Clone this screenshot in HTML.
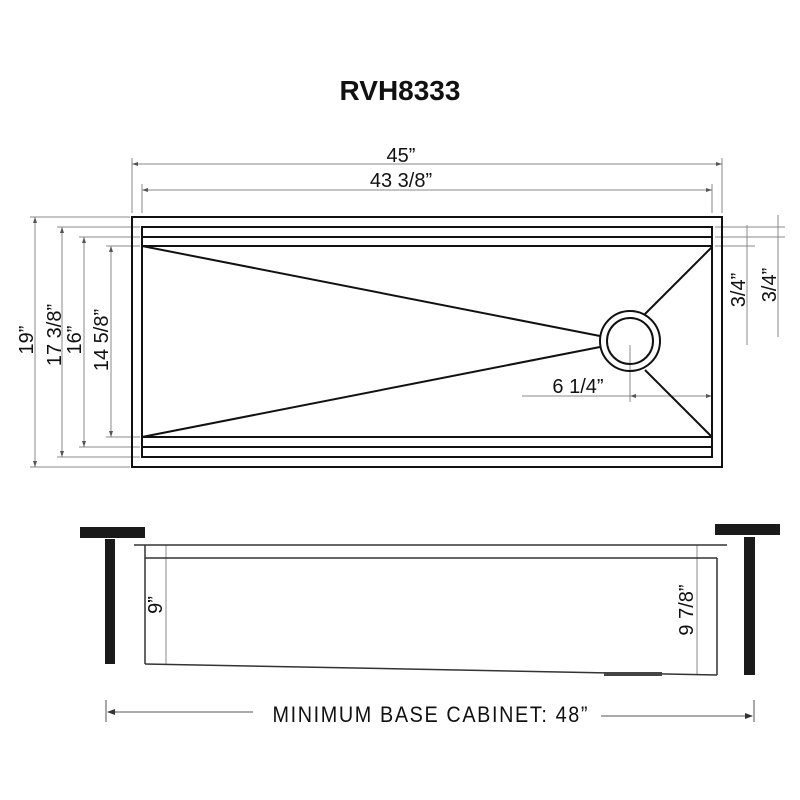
<!DOCTYPE html>
<html><head><style>body{margin:0;background:#fff}svg{display:block}</style></head><body>
<svg width="800" height="800" viewBox="0 0 800 800" xmlns="http://www.w3.org/2000/svg" font-family="Liberation Sans, sans-serif">
<text x="400" y="100" text-anchor="middle" font-size="28" font-weight="bold" fill="#111">RVH8333</text>
<g stroke="#888" stroke-width="1" fill="none">
<line x1="132" y1="158" x2="132" y2="213"/><line x1="722" y1="158" x2="722" y2="213"/>
<line x1="132" y1="164" x2="722" y2="164"/>
<line x1="142" y1="184" x2="142" y2="213"/><line x1="712" y1="184" x2="712" y2="213"/>
<line x1="142" y1="190" x2="712" y2="190"/>
<line x1="30" y1="217" x2="130" y2="217"/><line x1="30" y1="467" x2="130" y2="467"/>
<line x1="35" y1="217" x2="35" y2="467"/>
<line x1="57" y1="227" x2="140" y2="227"/><line x1="57" y1="457" x2="140" y2="457"/>
<line x1="62" y1="227" x2="62" y2="457"/>
<line x1="79" y1="237" x2="140" y2="237"/><line x1="79" y1="447" x2="140" y2="447"/>
<line x1="84" y1="237" x2="84" y2="447"/>
<line x1="106" y1="246" x2="140" y2="246"/><line x1="106" y1="437" x2="140" y2="437"/>
<line x1="111" y1="246" x2="111" y2="437"/>
<line x1="715" y1="227" x2="785" y2="227"/><line x1="715" y1="237" x2="785" y2="237"/><line x1="715" y1="246" x2="755" y2="246"/>
<line x1="747" y1="225" x2="747" y2="345"/><line x1="778" y1="215" x2="778" y2="337"/>
<line x1="522" y1="396" x2="712" y2="396"/><line x1="630" y1="345" x2="630" y2="402"/>
<line x1="166" y1="545" x2="166" y2="664"/><line x1="697" y1="545" x2="697" y2="675"/>
</g>
<g fill="#555">
<polygon points="132,164 138,162 138,166"/><polygon points="722,164 716,162 716,166"/>
<polygon points="142,190 148,188 148,192"/><polygon points="712,190 706,188 706,192"/>
<polygon points="35,217 33,223 37,223"/><polygon points="35,467 33,461 37,461"/>
<polygon points="62,227 60,233 64,233"/><polygon points="62,457 60,451 64,451"/>
<polygon points="84,237 82,243 86,243"/><polygon points="84,447 82,441 86,441"/>
<polygon points="111,246 109,252 113,252"/><polygon points="111,437 109,431 113,431"/>
<polygon points="630,396 636,394 636,398"/><polygon points="712,396 706,394 706,398"/>
</g>
<g fill="#111" font-size="20">
<text x="401" y="162" text-anchor="middle">45”</text>
<text x="401" y="187" text-anchor="middle">43 3/8”</text>
<text transform="translate(33,340) rotate(-90)" text-anchor="middle">19”</text>
<text transform="translate(61,335) rotate(-90)" text-anchor="middle">17 3/8”</text>
<text transform="translate(81,340) rotate(-90)" text-anchor="middle">16”</text>
<text transform="translate(108,340) rotate(-90)" text-anchor="middle">14 5/8”</text>
<text transform="translate(745,290) rotate(-90)" text-anchor="middle">3/4”</text>
<text transform="translate(776,285) rotate(-90)" text-anchor="middle">3/4”</text>
<text x="578" y="393" text-anchor="middle">6 1/4”</text>
<text transform="translate(162,605) rotate(-90)" text-anchor="middle">9”</text>
<text transform="translate(693,610) rotate(-90)" text-anchor="middle">9 7/8”</text>
</g>
<g stroke="#111" stroke-width="2" fill="none">
<rect x="132" y="217" width="590" height="250"/>
<rect x="142" y="227" width="570" height="230"/>
<line x1="142" y1="237" x2="712" y2="237"/><line x1="142" y1="246" x2="712" y2="246"/>
<line x1="142" y1="437" x2="712" y2="437"/><line x1="142" y1="447" x2="712" y2="447"/>
<line x1="142" y1="246" x2="600" y2="336"/><line x1="142" y1="437" x2="600" y2="347"/>
<line x1="712" y1="247" x2="645" y2="314"/><line x1="712" y1="437" x2="645" y2="370"/>
<circle cx="630" cy="341" r="30"/><circle cx="630" cy="341" r="23"/>
</g>
<g stroke="#333" stroke-width="1.5" fill="none">
<line x1="134" y1="545" x2="727" y2="545"/><line x1="145" y1="558" x2="717" y2="558"/>
<line x1="145" y1="545" x2="145" y2="664"/><line x1="145" y1="664" x2="717" y2="675"/>
<line x1="717" y1="558" x2="717" y2="675"/>
</g>
<rect x="604" y="672" width="58" height="4" fill="#444"/>
<g fill="#1a1a1a">
<rect x="80" y="527" width="65" height="11"/><rect x="105" y="539" width="10" height="125"/>
<rect x="715" y="524" width="65" height="11"/><rect x="744" y="537" width="11" height="138"/>
</g>
<g stroke="#555" stroke-width="1" fill="none">
<line x1="106" y1="700" x2="106" y2="722"/><line x1="754" y1="700" x2="754" y2="722"/>
<line x1="108" y1="712" x2="253" y2="712"/><line x1="601" y1="716" x2="752" y2="716"/>
</g>
<polygon points="107,712 115,709 115,715" fill="#333"/><polygon points="753,716 745,713 745,719" fill="#333"/>
<text x="430" y="722" text-anchor="middle" font-size="22" fill="#111" transform="translate(430,0) scale(0.9,1) translate(-430,0)" textLength="350">MINIMUM BASE CABINET: 48”</text>
</svg>
</body></html>
